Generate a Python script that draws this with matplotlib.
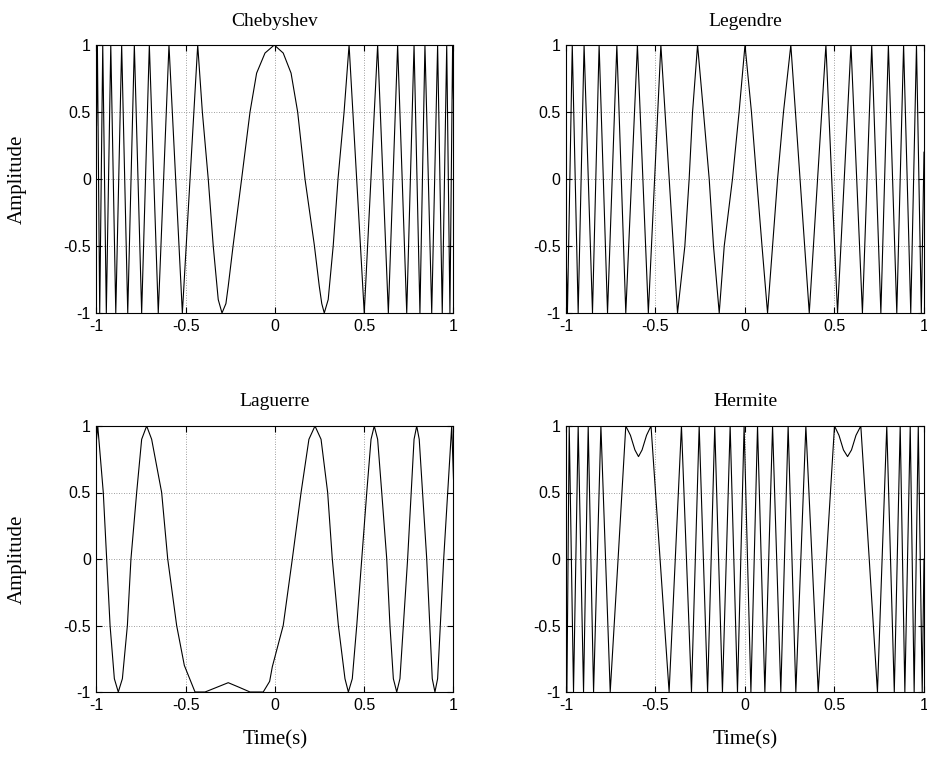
import matplotlib
matplotlib.use("Agg")
import matplotlib.pyplot as plt

# Turning points and crossings (time, amplitude) of each polynomial-phase signal
cheb_t = [-1.0, -0.995, -0.982, -0.965, -0.945, -0.920, -0.892, -0.859, -0.825, -0.788,
          -0.747, -0.704, -0.654, -0.594, -0.519, -0.433, -0.407, -0.374, -0.346, -0.318,
          -0.297, -0.275, -0.262, -0.234, -0.187, -0.140, -0.103, -0.056, -0.004, 0.046,
          0.090, 0.127, 0.168, 0.220, 0.248, 0.262, 0.276, 0.298, 0.326, 0.353, 0.387,
          0.415, 0.500, 0.575, 0.635, 0.687, 0.738, 0.779, 0.812, 0.840, 0.878, 0.911,
          0.937, 0.962, 0.980, 0.995, 1.0]
cheb_y = [0.4, 1.0, -1.0, 1.0, -1.0, 1.0, -1.0, 1.0, -1.0, 1.0,
          -1.0, 1.0, -1.0, 1.0, -1.0, 1.0, 0.5, 0.0, -0.5, -0.9,
          -1.0, -0.93, -0.80, -0.49, 0.0, 0.50, 0.79, 0.94, 1.0, 0.94,
          0.79, 0.50, 0.0, -0.49, -0.80, -0.93, -1.0, -0.9, -0.5, 0.0, 0.5,
          1.0, -1.0, 1.0, -1.0, 1.0, -1.0, 1.0, -1.0, 1.0, -1.0, 1.0,
          -1.0, 1.0, -1.0, 1.0, 0.6]

leg_t = [-1.0, -0.992, -0.965, -0.932, -0.899, -0.852, -0.815, -0.768, -0.716, -0.666,
         -0.601, -0.540, -0.470, -0.377, -0.336, -0.312, -0.293, -0.265, -0.232, -0.200,
         -0.176, -0.144, -0.116, -0.070, -0.033, 0.0, 0.036, 0.065, 0.095, 0.126, 0.154,
         0.182, 0.215, 0.256, 0.359, 0.452, 0.517, 0.592, 0.656, 0.708, 0.759, 0.801,
         0.848, 0.886, 0.926, 0.958, 0.985, 1.0]
leg_y = [-0.5, -1.0, 1.0, -1.0, 1.0, -1.0, 1.0, -1.0, 1.0, -1.0,
         1.0, -1.0, 1.0, -1.0, -0.5, 0.0, 0.5, 1.0, 0.5, 0.0,
         -0.5, -1.0, -0.5, 0.0, 0.5, 1.0, 0.5, 0.0, -0.5, -1.0, -0.5,
         0.0, 0.5, 1.0, -1.0, 1.0, -1.0, 1.0, -1.0, 1.0, -1.0, 1.0,
         -1.0, 1.0, -1.0, 1.0, -1.0, 0.2]

lag_t = [-1.0, -0.993, -0.962, -0.943, -0.924, -0.900, -0.878, -0.855, -0.827, -0.807,
         -0.775, -0.747, -0.719, -0.691, -0.635, -0.601, -0.551, -0.508, -0.448, -0.392,
         -0.336, -0.262, -0.200, -0.140, -0.066, -0.030, -0.015, 0.046, 0.097, 0.146,
         0.190, 0.224, 0.258, 0.295, 0.321, 0.355, 0.392, 0.411, 0.433, 0.458, 0.486,
         0.514, 0.538, 0.556, 0.575, 0.598, 0.626, 0.644, 0.663, 0.682, 0.700, 0.743,
         0.779, 0.794, 0.808, 0.850, 0.881, 0.896, 0.911, 0.945, 0.990, 1.0]
lag_y = [0.9, 1.0, 0.5, 0.0, -0.5, -0.9, -1.0, -0.9, -0.5, 0.0,
         0.5, 0.9, 1.0, 0.9, 0.5, 0.0, -0.5, -0.8, -1.0, -1.0,
         -0.97, -0.93, -0.965, -1.0, -1.0, -0.92, -0.81, -0.5, 0.0, 0.5,
         0.9, 1.0, 0.9, 0.5, 0.0, -0.5, -0.9, -1.0, -0.9, -0.5, 0.0,
         0.5, 0.9, 1.0, 0.9, 0.5, 0.0, -0.5, -0.9, -1.0, -0.9, 0.0,
         0.9, 1.0, 0.9, 0.0, -0.9, -1.0, -0.9, 0.0, 1.0, 0.6]

herm_t = [-1.0, -0.995, -0.982, -0.958, -0.932, -0.902, -0.876, -0.846, -0.805, -0.753,
          -0.709, -0.666, -0.640, -0.615, -0.595, -0.575, -0.550, -0.525, -0.424, -0.355,
          -0.299, -0.256, -0.209, -0.169, -0.126, -0.083, -0.042, -0.005, 0.033, 0.070,
          0.111, 0.154, 0.200, 0.241, 0.284, 0.340, 0.409, 0.500, 0.525, 0.550, 0.573,
          0.595, 0.620, 0.647, 0.694, 0.740, 0.792, 0.834, 0.867, 0.893, 0.923, 0.945,
          0.968, 0.990, 1.0]
herm_y = [0.0, -1.0, 1.0, -1.0, 1.0, -1.0, 1.0, -1.0, 1.0, -1.0,
          0.0, 1.0, 0.93, 0.82, 0.77, 0.82, 0.93, 1.0, -1.0, 1.0,
          -1.0, 1.0, -1.0, 1.0, -1.0, 1.0, -1.0, 1.0, -1.0, 1.0,
          -1.0, 1.0, -1.0, 1.0, -1.0, 1.0, -1.0, 1.0, 0.93, 0.82, 0.77,
          0.82, 0.93, 1.0, 0.0, -1.0, 1.0, -1.0, 1.0, -1.0, 1.0, -1.0,
          1.0, -1.0, 0.0]

titles = ["Chebyshev", "Legendre", "Laguerre", "Hermite"]
tick_vals = [-1, -0.5, 0, 0.5, 1]
tick_labels = ["-1", "-0.5", "0", "0.5", "1"]

W, H = 928, 765
fig = plt.figure(figsize=(W / 100, H / 100), dpi=100)

def box(x0, x1, y0, y1):
    return [x0 / W, 1 - y1 / H, (x1 - x0) / W, (y1 - y0) / H]

# panel frames in pixels: (left, right, top, bottom)
frames = [(96.5, 453.5, 45, 313), (566, 924, 45, 313),
          (96.5, 453.5, 426, 692), (566, 924, 426, 692)]
series = [(cheb_t, cheb_y), (leg_t, leg_y), (lag_t, lag_y), (herm_t, herm_y)]

serif = "Liberation Serif"
sans = "Liberation Sans"

for i, (fr, (t, y), title) in enumerate(zip(frames, series, titles)):
    x0, x1, y0, y1 = fr
    ax = fig.add_axes(box(x0, x1, y0, y1))
    ax.plot(t, y, color="black", lw=0.8)
    ax.set_xlim(-1, 1)
    ax.set_ylim(-1, 1)
    ax.set_xticks(tick_vals)
    ax.set_yticks(tick_vals)
    ax.set_xticklabels(tick_labels, fontfamily=sans, fontsize=11.5)
    ax.set_yticklabels(tick_labels, fontfamily=sans, fontsize=11.5)
    ax.tick_params(direction="in", length=4, width=0.8, top=True, right=True,
                   pad=4, colors="black")
    ax.grid(True, linestyle=(0, (1, 2)), color="#808080", lw=0.6)
    for s in ax.spines.values():
        s.set_linewidth(0.8)
    cx = (x0 + x1) / 2
    fig.text(cx / W, 1 - (y0 - 24) / H, title, fontfamily=serif, fontsize=14,
             ha="center", va="center")
    if i % 2 == 0:
        fig.text(17 / W, 1 - ((y0 + y1) / 2) / H, "Amplitude", fontfamily=serif,
                 fontsize=15, rotation=90, ha="center", va="center")
    if i >= 2:
        fig.text(cx / W, 1 - 740 / H, "Time(s)", fontfamily=serif, fontsize=15,
                 ha="center", va="center")

fig.savefig("out.png", dpi=100)
